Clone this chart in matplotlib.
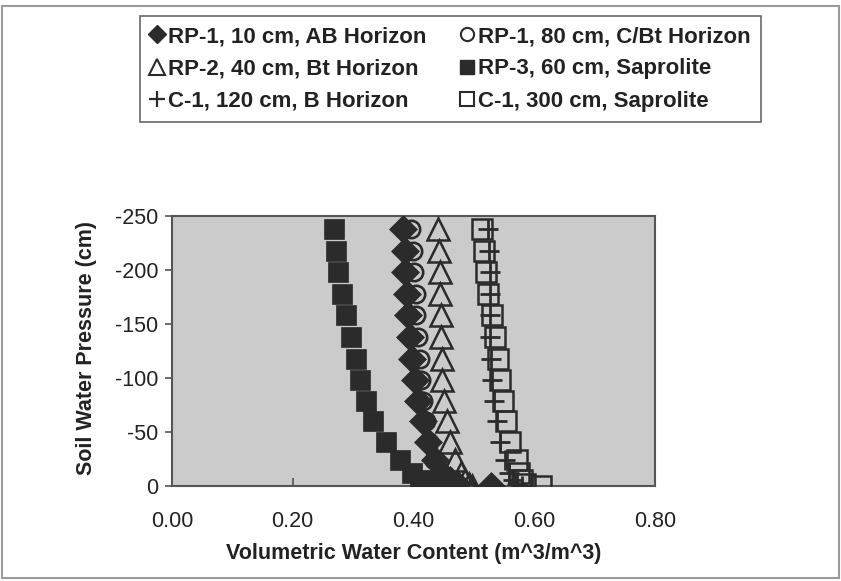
import matplotlib
matplotlib.use("Agg")
import matplotlib.pyplot as plt
from matplotlib.lines import Line2D
from matplotlib.patches import Rectangle

plt.rcParams['font.family'] = ['Liberation Sans', 'DejaVu Sans']

# ---- data ----
pressure = [-238, -218, -198, -178, -158, -138, -118, -98, -79, -60, -41, -24, -12, -6, -2, 0]

rp1_10cm_ab = [0.383, 0.386, 0.386, 0.389, 0.391, 0.394, 0.397, 0.402, 0.408, 0.416,
               0.424, 0.435, 0.446, 0.461, 0.472, 0.528]
rp1_80cm_cbt = [0.396, 0.399, 0.401, 0.404, 0.404, 0.407, 0.410, 0.412, 0.415, 0.421,
                0.426, 0.434, 0.445, 0.455, 0.463, 0.475]
rp2_40cm_bt = [0.441, 0.443, 0.444, 0.444, 0.445, 0.445, 0.447, 0.448, 0.451, 0.455,
               0.460, 0.469, 0.478, 0.486, 0.492, 0.497]
rp3_60cm_sap = [0.268, 0.271, 0.275, 0.281, 0.289, 0.296, 0.304, 0.312, 0.321, 0.333,
                0.354, 0.378, 0.398, 0.411, 0.422, 0.431]
c1_120cm_b = [0.524, 0.525, 0.527, 0.527, 0.527, 0.527, 0.528, 0.530, 0.533, 0.538,
              0.543, 0.552, 0.558, 0.565, 0.572, 0.580]
c1_300cm_sap = [0.513, 0.516, 0.520, 0.524, 0.530, 0.535, 0.540, 0.544, 0.549, 0.554,
                0.560, 0.571, 0.575, 0.580, 0.585, 0.612]

labels = ["RP-1, 10 cm, AB Horizon", "RP-1, 80 cm, C/Bt Horizon",
          "RP-2, 40 cm, Bt Horizon", "RP-3, 60 cm, Saprolite",
          "C-1, 120 cm, B Horizon", "C-1, 300 cm, Saprolite"]

x_ticks = [0.0, 0.2, 0.4, 0.6, 0.8]
y_ticks = [0, -50, -100, -150, -200, -250]

# ---- figure ----
W, H = 841, 581
fig = plt.figure(figsize=(W / 100, H / 100), dpi=100)
fig.patches.append(Rectangle((2 / W, 3 / H), 837 / W, 572 / H, transform=fig.transFigure,
                             fill=False, edgecolor='#9a9a9a', linewidth=1.5))

ax = fig.add_axes([172 / W, 1 - 486 / H, 483 / W, 270 / H])
ax.set_facecolor('#cbcbcb')

ink = '#2b2b2b'
ax.plot(c1_300cm_sap, pressure, linestyle='none', marker='s', markersize=14.5,
        markerfacecolor='none', markeredgecolor=ink, markeredgewidth=1.8, zorder=3)
ax.plot(c1_120cm_b, pressure, linestyle='none', marker='+', markersize=15,
        markeredgecolor=ink, markeredgewidth=2.0, zorder=4)
ax.plot(rp2_40cm_bt, pressure, linestyle='none', marker='^', markersize=16,
        markerfacecolor='none', markeredgecolor=ink, markeredgewidth=1.8, zorder=3)
ax.plot(rp1_80cm_cbt, pressure, linestyle='none', marker='o', markersize=12.5,
        markerfacecolor='none', markeredgecolor=ink, markeredgewidth=1.9, zorder=4)
ax.plot(rp1_10cm_ab, pressure, linestyle='none', marker='D', markersize=14,
        markerfacecolor=ink, markeredgecolor=ink, markeredgewidth=0.5, zorder=5)
ax.plot(rp3_60cm_sap, pressure, linestyle='none', marker='s', markersize=15,
        markerfacecolor=ink, markeredgecolor=ink, markeredgewidth=0.5, zorder=5)

ax.set_xlim(0, 0.8)
ax.set_ylim(0, -250)
ax.set_xticks(x_ticks)
ax.set_xticklabels([f"{v:.2f}" for v in x_ticks])
ax.set_yticks(y_ticks)
ax.set_yticklabels([str(v) for v in y_ticks])

for s in ax.spines.values():
    s.set_color('#555555')
    s.set_linewidth(1.5)
ax.tick_params(axis='x', direction='in', length=6, width=1.2, color='#555555',
               pad=18, labelsize=15.5, labelcolor='#222222')
ax.tick_params(axis='y', direction='out', length=5, width=1.2, color='#555555',
               pad=5, labelsize=15.5, labelcolor='#222222')

ax.set_xlabel("Volumetric Water Content (m^3/m^3)", fontsize=15.5, fontweight='bold',
              color='#222222')
ax.xaxis.set_label_coords(0.5, -0.21)
ax.set_ylabel("Soil Water Pressure (cm)", fontsize=15.5, fontweight='bold', color='#222222')
ax.yaxis.set_label_coords(-0.155, 0.51)

# ---- legend ----
h_diamond = Line2D([], [], linestyle='none', marker='D', markersize=9.5, color=ink)
h_circle = Line2D([], [], linestyle='none', marker='o', markersize=9.5, markerfacecolor='none',
                  markeredgecolor=ink, markeredgewidth=1.5)
h_tri = Line2D([], [], linestyle='none', marker='^', markersize=11, markerfacecolor='none',
               markeredgecolor=ink, markeredgewidth=1.5)
h_fsq = Line2D([], [], linestyle='none', marker='s', markersize=10, color=ink)
h_plus = Line2D([], [], linestyle='none', marker='+', markersize=11, markeredgecolor=ink,
                markeredgewidth=1.6)
h_osq = Line2D([], [], linestyle='none', marker='s', markersize=10, markerfacecolor='none',
               markeredgecolor=ink, markeredgewidth=1.5)

handles = [h_diamond, h_tri, h_plus, h_circle, h_fsq, h_osq]
leg_labels = [labels[0], labels[2], labels[4], labels[1], labels[3], labels[5]]
leg = fig.legend(handles, leg_labels, ncol=2, loc='upper left',
                 bbox_to_anchor=(140 / W, 1 - 16 / H), borderaxespad=0,
                 prop={'family': 'Liberation Sans', 'weight': 'bold', 'size': 16},
                 frameon=True, fancybox=False, shadow=False, handlelength=0.6,
                 handletextpad=0.22, columnspacing=1.5, labelspacing=0.51,
                 borderpad=0.45)
leg.get_frame().set_edgecolor('#444444')
leg.get_frame().set_linewidth(1.2)
for t in leg.get_texts():
    t.set_color('#222222')

fig.savefig("out.png", dpi=100)
